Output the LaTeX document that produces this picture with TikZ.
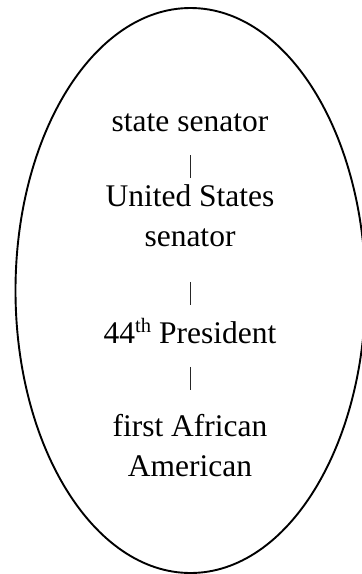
\documentclass[tikz,border=0pt]{standalone}
\usepackage{fontspec}
\setmainfont{Liberation Serif}
\tikzset{
  lbl/.style={inner sep=0pt, anchor=base, text height=21pt, text depth=7pt,
    font=\fontsize{31.5}{36}\selectfont},
  bar/.style={line width=0.9pt, black!85}
}
\begin{document}
\begin{tikzpicture}[x=1pt,y=-1pt]
\useasboundingbox (0,0) rectangle (362,574);
\draw[line width=1.9pt] (190.5,290.5) ellipse [x radius=175, y radius=282.5];
% the lines of text
\node[lbl] (state) at (190,131.5) {state senator};
\node[lbl] (us) at (190,206.7) {United States};
\node[lbl] (ussen) at (190,246.7) {senator};
\node[lbl] (prez) at (190,343) {44\raisebox{10.5pt}{\fontsize{20.5}{20}\selectfont th} President};
\node[lbl] (first) at (190,436) {first African};
\node[lbl] (amer) at (190,476.5) {American};
% the bars between them
\draw[bar, shorten <=16.5pt, shorten >=7.7pt] (state) -- (us);
\draw[bar, shorten <=28pt, shorten >=17pt] (ussen) -- (prez);
\draw[bar, shorten <=16.7pt, shorten >=25pt] (prez) -- (first);
\end{tikzpicture}
\end{document}
